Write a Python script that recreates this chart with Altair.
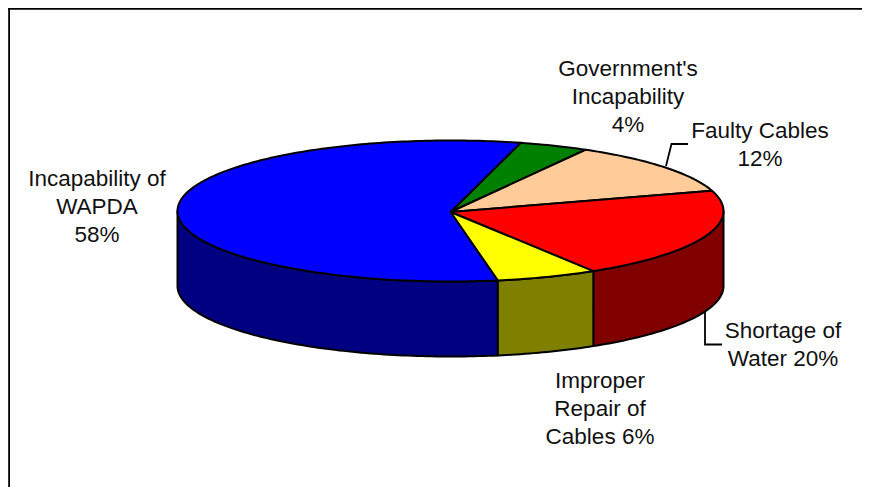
import math
import altair as alt
import pandas as pd

# Data
SLICE_NAMES = ["Government's Incapability", "Faulty Cables", "Shortage of Water",
               "Improper Repair of Cables", "Incapability of WAPDA"]
# Shares as drawn (printed labels round them)
SHARES = [4.1, 12.1, 20.9, 6.0, 56.9]
TOP_COLORS = ["#008000", "#FFCC99", "#FF0000", "#FFFF00", "#0000FF"]
SIDE_COLORS = ["#004000", "#806650", "#800000", "#808000", "#000080"]
LABELS = ["Government's\nIncapability\n4%", "Faulty Cables\n12%", "Shortage of\nWater 20%",
          "Improper\nRepair of\nCables 6%", "Incapability of\nWAPDA\n58%"]

# Layout (page pixels; the canvas starts at 8,8)
CX, CY, RX, RY, DEPTH = 450.5, 211.0, 273.0, 70.5, 75.0
HUB = (450.5, 212.0)
START_ANGLE = 75.1
OX, OY = 8, 8
LABEL_X = [628, 760, 783, 600, 97]
LABEL_Y = [58, 120, 319.5, 369.5, 168]
LEADERS = [("Faulty Cables", [(666, 166), (671.5, 144), (688, 144)]),
           ("Shortage of Water", [(705, 312), (705, 344.5), (722, 344.5)])]


def pt(t, dy=0.0):
    r = math.radians(t)
    return [CX + RX * math.cos(r) - OX, CY - RY * math.sin(r) + dy - OY]


def arc(a, b, dy=0.0):
    n = max(2, int(abs(a - b)) + 2)
    return [pt(a + (b - a) * i / (n - 1), dy) for i in range(n)]


features = []
bounds = []
a = START_ANGLE
for s in SHARES:
    b = a - s * 3.6
    bounds.append((a, b))
    a = b

# Sides: only the part of the rim on the near half (angles -180..0)
for (a, b), col in zip(bounds, SIDE_COLORS):
    for shift in (0, -360):
        lo, hi = max(b + shift, -180), min(a + shift, 0)
        if hi > lo:
            ring = arc(hi, lo) + arc(lo, hi, DEPTH)
            ring.append(ring[0])
            features.append({"type": "Feature", "properties": {"fill": col, "order": len(features)},
                             "geometry": {"type": "Polygon", "coordinates": [ring]}})

# Top face
for (a, b), col in zip(bounds, TOP_COLORS):
    c = [HUB[0] - OX, HUB[1] - OY]
    ring = [c] + arc(a, b) + [c]
    features.append({"type": "Feature", "properties": {"fill": col, "order": len(features)},
                     "geometry": {"type": "Polygon", "coordinates": [ring]}})

pie = alt.Chart(alt.InlineData(values=features, format=alt.DataFormat(type="json"))).mark_geoshape(
    stroke="black", strokeWidth=2, strokeJoin="round"
).encode(
    fill=alt.Fill("properties.fill:N", scale=None, legend=None),
    order=alt.Order("properties.order:Q"),
).project(type="identity", scale=1, translate=[0, 0])

label_df = pd.DataFrame({
    "label": LABELS,
    "x": [v - OX for v in LABEL_X],
    "y": [v - OY for v in LABEL_Y],
})
labels = alt.Chart(label_df).mark_text(
    font="Liberation Sans", fontSize=22.5, lineBreak="\n", lineHeight=28,
    align="center", baseline="top", color="#111111",
).encode(x=alt.X("x:Q", scale=None), y=alt.Y("y:Q", scale=None), text="label:N")

rows = []
for name, pts in LEADERS:
    for i, (x, y) in enumerate(pts):
        rows.append({"name": name, "i": i, "x": x - OX, "y": y - OY})
leaders = alt.Chart(pd.DataFrame(rows)).mark_line(color="black", strokeWidth=1.8).encode(
    x=alt.X("x:Q", scale=None), y=alt.Y("y:Q", scale=None),
    detail="name:N", order="i:Q",
)

left_edge = alt.Chart(pd.DataFrame({"v": [0]})).mark_rule(color="black", strokeWidth=1.8).encode(
    x=alt.value(1.1), y=alt.value(0), y2=alt.value(479))
top_edge = alt.Chart(pd.DataFrame({"v": [0]})).mark_rule(color="black", strokeWidth=1.8).encode(
    y=alt.value(0.8), x=alt.value(0), x2=alt.value(854))

chart = alt.layer(pie, leaders, labels, left_edge, top_edge).properties(
    width=854, height=479, padding=0, autosize=alt.AutoSizeParams(type="none"),
    background="white",
).configure_view(stroke=None)

chart.save("out.html", embed_options={"renderer": "svg", "actions": False})
